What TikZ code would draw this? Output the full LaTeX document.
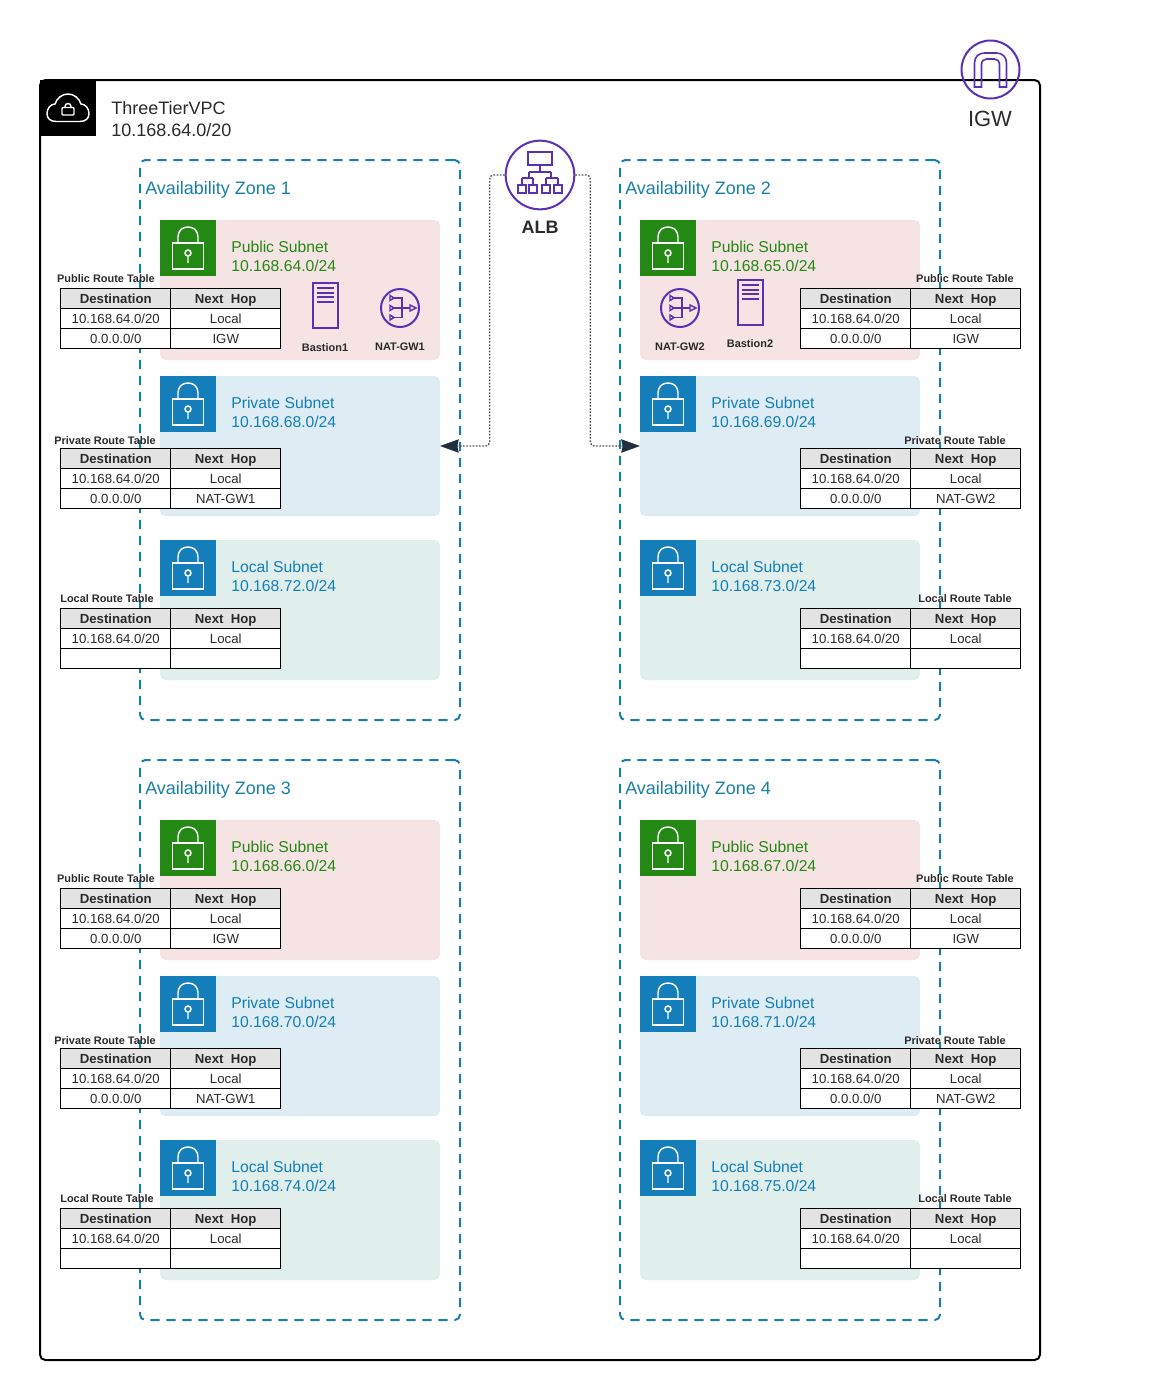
\documentclass[tikz,border=0pt]{standalone}
\usepackage{fontspec}
\usepackage{xcolor}
\setmainfont{Liberation Sans}
\usetikzlibrary{matrix}
\usetikzlibrary{arrows.meta}
\definecolor{pubgreen}{HTML}{248814}
\definecolor{awsblue}{HTML}{147EBA}
\definecolor{zoneblue}{HTML}{1A7FA8}
\definecolor{awspurple}{HTML}{5A30B5}
\definecolor{pubfill}{HTML}{F6E3E3}
\definecolor{privfill}{HTML}{DEECF3}
\definecolor{localfill}{HTML}{E0EFEB}
\definecolor{headgray}{HTML}{E3E3E3}
\definecolor{tiplink}{HTML}{232F3E}
\definecolor{inktext}{HTML}{2B2B2B}
\tikzstyle{vpcbox} = [draw=black,line width=1.5pt,rounded corners=4pt,minimum width=750pt,minimum height=960pt,inner sep=0pt]
\tikzstyle{zonebox} = [draw=zoneblue,line width=1.5pt,dash pattern=on 7pt off 5pt,rounded corners=4pt,minimum width=240pt,minimum height=420pt,inner sep=0pt]
\tikzstyle{subnetbox} = [rounded corners=4pt,minimum width=210pt,minimum height=105pt,inner sep=0pt,outer sep=0pt]
\tikzstyle{iconbox} = [minimum size=42pt,inner sep=0pt,outer sep=0pt]
\tikzstyle{subnettext} = [anchor=west,align=left,inner sep=0pt,font=\fontsize{11.8}{14.25}\selectfont]
\tikzstyle{zonetext} = [anchor=west,inner sep=0pt,text=zoneblue,font=\fontsize{13.5}{16.5}\selectfont]
\tikzstyle{tabletitle} = [inner sep=0pt,text=inktext,font=\bfseries\fontsize{8.2}{10}\selectfont]
\tikzstyle{servicetext} = [inner sep=0pt,text=inktext,font=\bfseries\fontsize{8.2}{10}\selectfont]
\tikzstyle{servicering} = [circle,draw=awspurple,line width=1.5pt,inner sep=0pt]
\tikzstyle{albline} = [draw=black!70,line width=1pt,dash pattern=on 1.2pt off 1.2pt,rounded corners=3pt,-{Stealth[length=14pt,width=10pt,inset=1pt,color=tiplink]}]
\tikzstyle{routetable} = [matrix of nodes,ampersand replacement=\&,nodes in empty cells,anchor=north west,inner sep=0pt,row sep=-0.75pt,column sep=-0.75pt,
  nodes={draw=black,line width=0.75pt,fill=white,anchor=center,minimum width=82.5pt,minimum height=15pt,inner sep=0pt,text height=7.2pt,text depth=0pt,text=inktext,font=\fontsize{9.9}{12}\selectfont},
  row 1/.style={nodes={fill=headgray,font=\bfseries\fontsize{9.9}{12}\selectfont}}]
\tikzset{
  pics/lockicon/.style={code={
    \draw[white,line width=1.1pt] (12.5,23) rectangle (43.5,49);
    \draw[white,line width=1.1pt] (18,23) -- (18,17) .. controls (18,10) and (23,7) .. (28,7) .. controls (33,7) and (38,10) .. (38,17) -- (38,23);
    \draw[white,line width=1.1pt] (28,33) circle[radius=3] (28,36) -- (28,43);
  }},
  pics/cloudicon/.style={code={
    \draw[white,line width=1.1pt] (16,41.5) .. controls (10,41.5) and (7,38) .. (7,33.5) .. controls (7,28) and (11,24) .. (15,24) .. controls (17,18) and (22,14) .. (28,14) .. controls (34,14) and (39,18) .. (41,24) .. controls (45,24) and (49,28) .. (49,33.5) .. controls (49,38) and (46,41.5) .. (40,41.5) -- cycle;
    \draw[white,line width=1.1pt,rounded corners=0.7pt] (22,27.5) rectangle (34,35);
    \draw[white,line width=1.1pt] (25,27.5) -- (25,26.5) .. controls (25,22.5) and (31,22.5) .. (31,26.5) -- (31,27.5);
  }},
  pics/bastionicon/.style={code={
    \draw[awspurple,line width=1.5pt] (0,0) rectangle (25,45);
    \draw[awspurple,line width=1.2pt] (4,5) -- (21,5) (4,10) -- (21,10) (4,14) -- (21,14) (4,19) -- (21,19);
  }},
  pics/naticon/.style={code={
    \draw[awspurple,line width=1.1pt] (-6,-10) -- (2,-10) -- (2,9.5) -- (-6,9.5) (-6,0) -- (10,0);
    \draw[awspurple,line width=1.1pt,fill=none] (-10,-12.5) -- (-6,-10) -- (-10,-7.5) -- cycle (-10,-2.5) -- (-6,0) -- (-10,2.5) -- cycle (-10,7) -- (-6,9.5) -- (-10,12) -- cycle (10,-3) -- (16,0) -- (10,3) -- cycle;
  }},
  pics/albicon/.style={code={
    \draw[awspurple,line width=1.5pt] (-12,-23) rectangle (12,-10);
    \draw[awspurple,line width=1.5pt] (0,-10) -- (0,-3) (-11,-3) -- (11,-3) (-11,-3) -- (-11,3) (11,-3) -- (11,3) (-18,3) -- (-7,3) (18,3) -- (6,3) (-18,3) -- (-18,10) (-7,3) -- (-7,10) (6,3) -- (6,10) (18,3) -- (18,10);
    \foreach \bx in {-18,-7,6,18}
      \draw[awspurple,line width=1.5pt] (\bx-4,10) rectangle (\bx+4,18);
  }},
  pics/igwicon/.style={code={
    \draw[awspurple,line width=1.2pt] (-16,17) -- (-16,-7) .. controls (-16,-13) and (-12,-17) .. (-6,-17) -- (6,-17) .. controls (12,-17) and (16,-13) .. (16,-7) -- (16,17) -- (9,17) -- (9,-5) .. controls (9,-9) and (7,-11) .. (4,-11) -- (-4,-11) .. controls (-7,-11) and (-9,-9) .. (-9,-5) -- (-9,17) -- cycle;
  }}
}
\newcommand{\subnetarea}[6]{%
  \node (#1) [subnetbox,fill=#3] at (300,#2+70) {};
  \node (#1icon) [iconbox,fill=#4] at (188,#2+28) {};
  \pic at (160,#2) {lockicon};
  \node (#1text) [subnettext,text=#4] at (231,#2+36.5) {#5\\#6};
}
\newcommand{\routetbl}[8]{%
  \matrix (#1) [routetable] at (#2,#3) {
    Destination \& Next\ \ Hop \\
    10.168.64.0/20 \& Local \\
    #7 \& #8 \\
  };
  \node (#1title) [tabletitle] at (#4,#5) {#6};
}
\begin{document}
\begin{tikzpicture}[x=0.75pt,y=-0.75pt]
  \useasboundingbox (0,0) rectangle (1151,1400);
  \node (vpc) [vpcbox] at (540,720) {};
  \node (vpcicon) [minimum size=42pt,inner sep=0pt,outer sep=0pt,fill=black] at (68,108) {};
  \pic at (40,80) {cloudicon};
  \node (vpctext) [anchor=west,align=left,inner sep=0pt,text=inktext,font=\fontsize{13.5}{16.5}\selectfont] at (111,119) {ThreeTierVPC\\10.168.64.0/20};
  \foreach \zx/\zy/\zn/\pa/\pb/\pc/\tx/\ta/\tb/\tc/\nat in {
    0/0/1/64/68/72/60/106/105/107/NAT-GW1,
    480/0/2/65/69/73/320/485/475/485/NAT-GW2,
    0/600/3/66/70/74/60/106/105/107/NAT-GW1,
    480/600/4/67/71/75/320/485/475/485/NAT-GW2}
  {
    \begin{scope}[shift={(\zx,\zy)}]
      \node (zone\zn) [zonebox] at (300,440) {};
      \node (zone\zn text) [zonetext] at (145,190) {Availability Zone \zn};
      \subnetarea{pub\zn}{220}{pubfill}{pubgreen}{Public Subnet}{10.168.\pa.0/24}
      \subnetarea{priv\zn}{376}{privfill}{awsblue}{Private Subnet}{10.168.\pb.0/24}
      \subnetarea{loc\zn}{540}{localfill}{awsblue}{Local Subnet}{10.168.\pc.0/24}
      \routetbl{pubtbl\zn}{\tx}{288}{\ta}{279}{Public Route Table}{0.0.0.0/0}{IGW}
      \routetbl{privtbl\zn}{\tx}{448}{\tb}{441}{Private Route Table}{0.0.0.0/0}{\nat}
      \routetbl{loctbl\zn}{\tx}{608}{\tc}{599}{Local Route Table}{}{}
    \end{scope}
  }
  % services in the first two zones
  \pic at (312.5,283) {bastionicon};
  \node (bastion1) [servicetext] at (325,348) {Bastion1};
  \node (nat1ring) [servicering,minimum size=28.5pt] at (400,308) {};
  \pic at (400,308) {naticon};
  \node (nat1) [servicetext] at (400,347) {NAT-GW1};
  \pic at (737.5,280) {bastionicon};
  \node (bastion2) [servicetext] at (750,344) {Bastion2};
  \node (nat2ring) [servicering,minimum size=28.5pt] at (680,308) {};
  \pic at (680,308) {naticon};
  \node (nat2) [servicetext] at (680,347) {NAT-GW2};
  \node (igw) [servicering,minimum size=43.5pt] at (990.5,69.5) {};
  \pic at (990.5,70) {igwicon};
  \node (igwtext) [inner sep=0pt,text=inktext,font=\fontsize{16.5}{20}\selectfont] at (990,119) {IGW};
  \node (alb) [servicering,minimum size=51.5pt] at (540,175) {};
  \pic at (540,175) {albicon};
  \node (albtext) [inner sep=0pt,text=inktext,font=\bfseries\fontsize{13.5}{16}\selectfont] at (540,227) {ALB};
  \draw[albline] (alb.west) -- ++(-15,0) |- (priv1.east);
  \draw[albline] (alb.east) -- ++(15,0) |- (priv2.west);
\end{tikzpicture}
\end{document}
